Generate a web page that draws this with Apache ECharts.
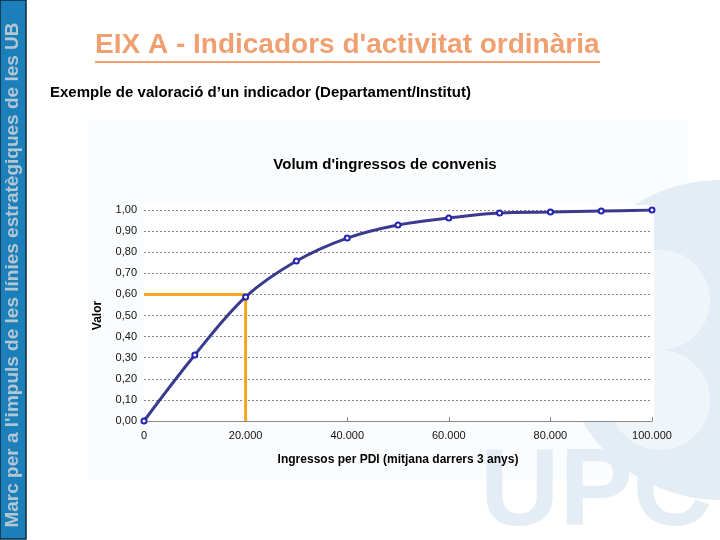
<!DOCTYPE html>
<html><head><meta charset="utf-8">
<script src="https://cdn.jsdelivr.net/npm/echarts@6/dist/echarts.min.js"></script>
<style>html,body{margin:0;padding:0;background:#fff}#c{width:720px;height:540px}</style>
</head><body><div id="c"></div>
<script>
var xValues = [0, 10000, 20000, 30000, 40000, 50000, 60000, 70000, 80000, 90000, 100000];
var yValues = [0, 0.313, 0.588, 0.758, 0.867, 0.929, 0.962, 0.986, 0.990, 0.995, 1.0];
var refX = 20000;
var refY = 0.60;
var yTicks = [0, 0.1, 0.2, 0.3, 0.4, 0.5, 0.6, 0.7, 0.8, 0.9, 1.0];

var chart = echarts.init(document.getElementById('c'));
var F = 'Liberation Sans, Arial, sans-serif';
var wm = '#e4edf5';
chart.setOption({
  backgroundColor: '#ffffff',
  animation: false,
  title: {
    text: 'Volum d\'ingressos de convenis',
    left: 380, top: 152, textAlign: 'center',
    textStyle: {fontFamily: F, fontSize: 15, fontWeight: 'bold', color: '#000'}
  },
  graphic: [
    {type: 'rect', z: -10, shape: {x: 88, y: 120, width: 600, height: 360}, style: {fill: '#fbfcfd'}},
    {type: 'circle', z: -9, shape: {cx: 720, cy: 340, r: 160}, style: {fill: wm}},
    {type: 'circle', z: -9, shape: {cx: 660, cy: 300, r: 50}, style: {fill: '#f0f5f9'}},
    {type: 'circle', z: -9, shape: {cx: 660, cy: 400, r: 50}, style: {fill: '#f0f5f9'}},
    {type: 'text', z: -9, left: 480, top: 440, style: {text: 'UPC', fontFamily: F, fontWeight: 'bold', fontSize: 110, fill: wm}},
    {type: 'rect', z: -8, shape: {x: 144, y: 205, width: 510, height: 216}, style: {fill: '#ffffff'}},
    {type: 'rect', shape: {x: 0, y: 0, width: 26, height: 539}, style: {fill: '#1b80ba', stroke: '#0d2a40', lineWidth: 1.5}},
    {type: 'text', x: 13, y: 275, rotation: Math.PI / 2,
      style: {text: 'Marc per a l\'impuls de les línies estratègiques de les UB', fontFamily: F, fontWeight: 'bold', fontSize: 19, fill: '#b4c6d3', align: 'center', verticalAlign: 'middle'}},
    {type: 'text', left: 95, top: 31, style: {text: 'EIX A - Indicadors d\'activitat ordinària', fontFamily: F, fontSize: 28, fontWeight: 'bold', fill: '#f0a070'}},
    {type: 'rect', shape: {x: 95, y: 61, width: 505, height: 2}, style: {fill: '#f0a070'}},
    {type: 'text', left: 50, top: 85, style: {text: 'Exemple de valoració d’un indicador (Departament/Institut)', fontFamily: F, fontSize: 15, fontWeight: 'bold', fill: '#000'}}
  ],
  grid: {left: 144, right: 68, top: 210, bottom: 119},
  xAxis: {
    type: 'value', min: 0, max: 100000, interval: 20000,
    name: 'Ingressos per PDI (mitjana darrers 3 anys)',
    nameLocation: 'middle', nameGap: 33,
    nameTextStyle: {fontFamily: F, fontSize: 12, fontWeight: 'bold', color: '#000'},
    axisLine: {show: true, lineStyle: {color: '#888', width: 1}},
    axisTick: {show: true, inside: true, length: 4, lineStyle: {color: '#888'}},
    axisLabel: {fontFamily: F, fontSize: 11, color: '#111', margin: 9,
      formatter: function (v) { return v === 0 ? '0' : String(v).replace(/\B(?=(\d{3})+(?!\d))/g, '.'); }},
    splitLine: {show: false}
  },
  yAxis: {
    type: 'value', min: 0, max: 1, interval: 0.1,
    name: 'Valor', nameLocation: 'middle', nameGap: 40, nameRotate: 90,
    nameTextStyle: {fontFamily: F, fontSize: 12, fontWeight: 'bold', color: '#000'},
    axisLine: {show: false}, axisTick: {show: false},
    axisLabel: {fontFamily: F, fontSize: 11, color: '#111', margin: 7,
      formatter: function (v) { return v.toFixed(2).replace('.', ','); }},
    splitLine: {show: true, lineStyle: {color: '#888', type: [2, 2], width: 1}}
  },
  series: [
    {
      type: 'line', z: 2,
      data: [[0, refY], [refX, refY], [refX, 0]],
      symbol: 'none',
      lineStyle: {color: '#f4a825', width: 3}
    },
    {
      type: 'line', z: 3,
      data: xValues.map(function (x, i) { return [x, yValues[i]]; }),
      smooth: 0.35,
      symbol: 'emptyCircle', symbolSize: 5,
      itemStyle: {color: '#2424b0', borderWidth: 1.2},
      lineStyle: {color: '#3a3a8e', width: 3}
    }
  ]
});
</script></body></html>
